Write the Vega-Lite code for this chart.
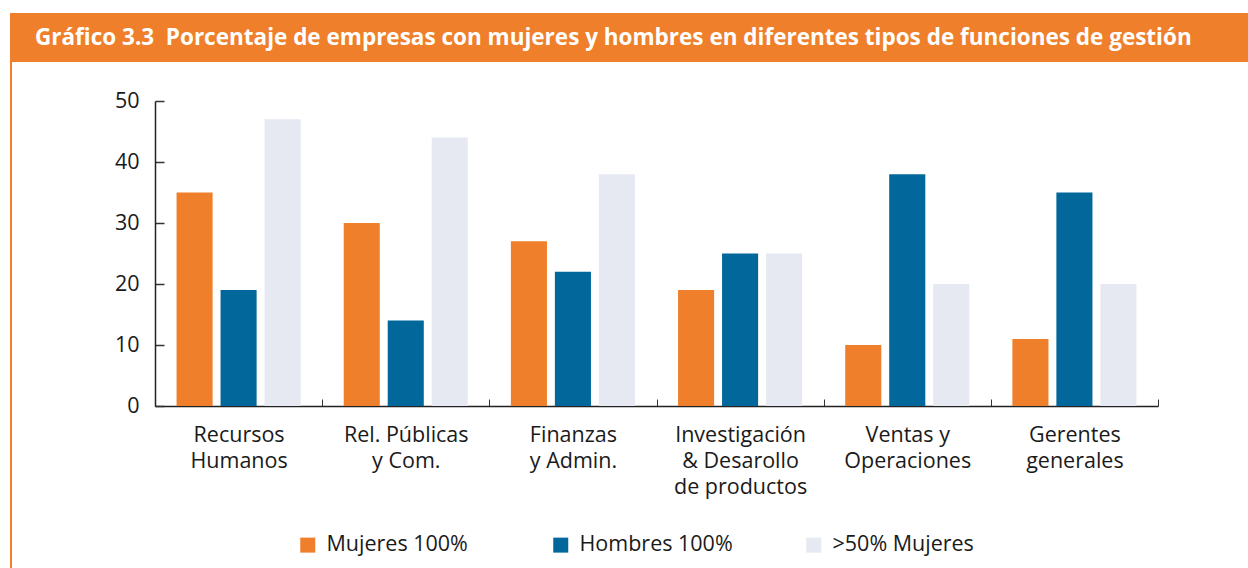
{
  "$schema": "https://vega.github.io/schema/vega-lite/v6.json",
  "background": "white",
  "padding": {"left": 10, "top": 13, "right": 0, "bottom": 0},
  "bounds": "flush",
  "config": {"view": {"stroke": null}, "concat": {"spacing": 0}},
  "spacing": 0,
  "hconcat": [
    {
      "width": 2,
      "height": 555,
      "data": {"values": [{}]},
      "mark": {"type": "rect", "fill": "#EF7F2A"},
      "encoding": {}
    },
    {
      "spacing": 39,
      "bounds": "flush",
      "vconcat": [
        {
          "width": 1236,
          "height": 49,
          "data": {"values": [{"t": "Gráfico 3.3\u00a0\u00a0Porcentaje de empresas con mujeres y hombres en diferentes tipos de funciones de gestión"}]},
          "layer": [
            {"mark": {"type": "rect", "fill": "#EF7F2A"}, "encoding": {}},
            {
              "mark": {"type": "text", "color": "white", "font": "Open Sans", "fontWeight": "bold", "fontSize": 22.5, "align": "left", "baseline": "middle", "x": 23, "y": 25},
              "encoding": {"text": {"field": "t"}}
            }
          ]
        },
        {
          "spacing": 142,
          "bounds": "flush",
          "hconcat": [
            {
              "width": 1,
              "height": 305,
              "data": {"values": [{}]},
              "mark": {"type": "rect", "opacity": 0},
              "encoding": {}
            },
            {
              "width": 1003,
              "height": 305,
              "data": {"values": [
                {"cat": "Recursos\nHumanos", "serie": "Mujeres 100%", "value": 35},
                {"cat": "Recursos\nHumanos", "serie": "Hombres 100%", "value": 19},
                {"cat": "Recursos\nHumanos", "serie": ">50% Mujeres", "value": 47},
                {"cat": "Rel. Públicas\ny Com.", "serie": "Mujeres 100%", "value": 30},
                {"cat": "Rel. Públicas\ny Com.", "serie": "Hombres 100%", "value": 14},
                {"cat": "Rel. Públicas\ny Com.", "serie": ">50% Mujeres", "value": 44},
                {"cat": "Finanzas\ny Admin.", "serie": "Mujeres 100%", "value": 27},
                {"cat": "Finanzas\ny Admin.", "serie": "Hombres 100%", "value": 22},
                {"cat": "Finanzas\ny Admin.", "serie": ">50% Mujeres", "value": 38},
                {"cat": "Investigación\n& Desarollo\nde productos", "serie": "Mujeres 100%", "value": 19},
                {"cat": "Investigación\n& Desarollo\nde productos", "serie": "Hombres 100%", "value": 25},
                {"cat": "Investigación\n& Desarollo\nde productos", "serie": ">50% Mujeres", "value": 25},
                {"cat": "Ventas y\nOperaciones", "serie": "Mujeres 100%", "value": 10},
                {"cat": "Ventas y\nOperaciones", "serie": "Hombres 100%", "value": 38},
                {"cat": "Ventas y\nOperaciones", "serie": ">50% Mujeres", "value": 20},
                {"cat": "Gerentes\ngenerales", "serie": "Mujeres 100%", "value": 11},
                {"cat": "Gerentes\ngenerales", "serie": "Hombres 100%", "value": 35},
                {"cat": "Gerentes\ngenerales", "serie": ">50% Mujeres", "value": 20}
              ]},
              "mark": {"type": "bar"},
              "encoding": {
                "x": {
                  "field": "cat", "type": "nominal", "sort": null,
                  "scale": {"paddingInner": 0, "paddingOuter": 0},
                  "axis": {
                    "title": null, "labelAngle": 0,
                    "labelExpr": "split(datum.label, '\\n')",
                    "tickBand": "extent", "tickSize": -7, "tickColor": "#333333", "tickWidth": 1,
                    "domainColor": "#222222", "domainWidth": 1.5,
                    "labelFont": "Open Sans", "labelFontSize": 21.5, "labelColor": "#1a1a1a",
                    "labelPadding": 25, "labelLineHeight": 26, "labelBaseline": "top"
                  }
                },
                "xOffset": {
                  "field": "serie", "type": "nominal",
                  "sort": ["Mujeres 100%", "Hombres 100%", ">50% Mujeres"],
                  "scale": {"paddingInner": 0.18, "paddingOuter": 0.49}
                },
                "y": {
                  "field": "value", "type": "quantitative",
                  "scale": {"domain": [0, 50], "nice": false},
                  "axis": {
                    "title": null, "values": [0, 10, 20, 30, 40, 50], "grid": false,
                    "tickSize": -9, "tickColor": "#333333", "tickWidth": 1.5,
                    "domainColor": "#222222", "domainWidth": 1.5,
                    "labelFont": "Open Sans", "labelFontSize": 21.5, "labelColor": "#1a1a1a",
                    "labelPadding": 25
                  }
                },
                "color": {
                  "field": "serie", "type": "nominal",
                  "scale": {"domain": ["Mujeres 100%", "Hombres 100%", ">50% Mujeres"], "range": ["#EF7F2A", "#02679B", "#E6E9F2"]},
                  "legend": {
                    "title": null, "orient": "none", "legendX": 287, "legendY": 521,
                    "direction": "horizontal", "columns": 3, "gridAlign": "all", "columnPadding": 70,
                    "symbolType": "square", "symbolSize": 225, "symbolStrokeWidth": 0,
                    "labelFont": "Open Sans", "labelFontSize": 21.5, "labelColor": "#1a1a1a", "labelOffset": 8,
                    "labelLimit": 300
                  }
                }
              }
            }
          ]
        }
      ]
    }
  ]
}
